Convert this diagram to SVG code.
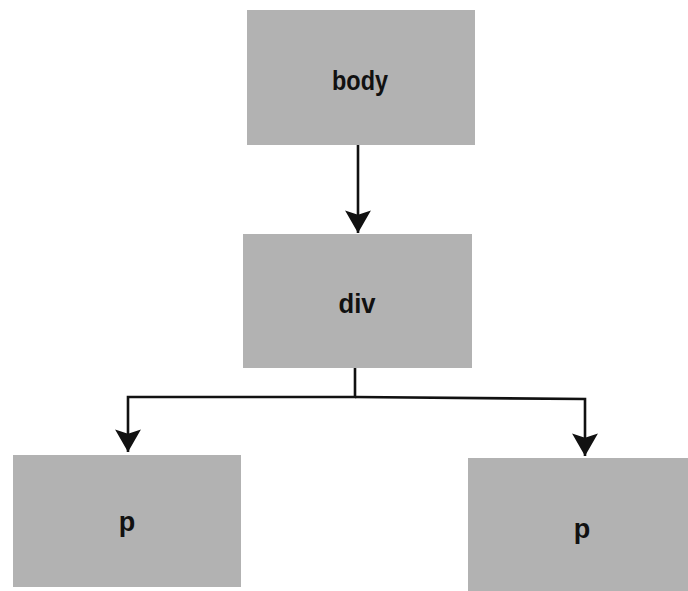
<svg xmlns="http://www.w3.org/2000/svg" width="688" height="591" viewBox="0 0 688 591">
  <style>
    .box { fill: #b2b2b2; }
    .lbl { font-family: "Liberation Sans", Arial, sans-serif; font-weight: bold; font-size: 27px; fill: #111; text-anchor: middle; }
    .wire { fill: none; stroke: #111; stroke-width: 2.6; }
  </style>
  <defs>
    <marker id="head" markerUnits="userSpaceOnUse" markerWidth="26" markerHeight="28" viewBox="-22 -13 24 26" refX="0" refY="0" orient="auto">
      <path d="M-21,-12 L0,0 L-21,12 L-17,0 Z" fill="#111"/>
    </marker>
  </defs>
  <rect width="688" height="591" fill="#ffffff"/>

  <g id="connectors">
    <path class="wire" d="M358,145 V233" marker-end="url(#head)"/>
    <path class="wire" d="M355,368 V397 H128 V452" marker-end="url(#head)"/>
    <path class="wire" d="M355,397 L585,399 V456" marker-end="url(#head)"/>
  </g>

  <g id="node-body">
    <rect class="box" x="247" y="10" width="228" height="135"/>
    <text class="lbl" x="360" y="90" textLength="56" lengthAdjust="spacingAndGlyphs">body</text>
  </g>

  <g id="node-div">
    <rect class="box" x="243" y="234" width="229" height="134"/>
    <text class="lbl" x="357" y="313" textLength="37" lengthAdjust="spacingAndGlyphs">div</text>
  </g>

  <g id="node-p-left">
    <rect class="box" x="13" y="455" width="228" height="132"/>
    <text class="lbl" x="127" y="531">p</text>
  </g>

  <g id="node-p-right">
    <rect class="box" x="468" y="458" width="220" height="133"/>
    <text class="lbl" x="582" y="538">p</text>
  </g>
</svg>
